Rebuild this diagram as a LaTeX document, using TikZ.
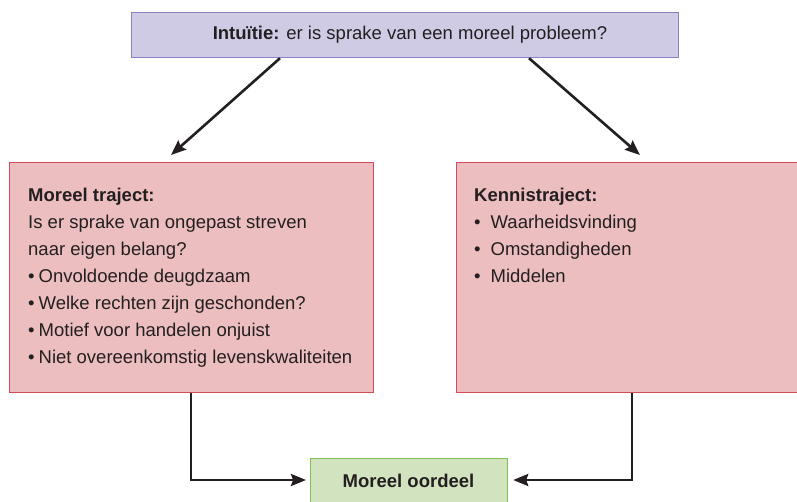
\documentclass[tikz,border=0pt]{standalone}
\usepackage{fontspec}
\setmainfont{Liberation Sans}
\usetikzlibrary{arrows.meta,calc}
\definecolor{txt}{HTML}{231F20}
\definecolor{lavfill}{HTML}{CFCBE5}
\definecolor{lavline}{HTML}{8A80C2}
\definecolor{pinkfill}{HTML}{ECBEBF}
\definecolor{pinkline}{HTML}{D04A5C}
\definecolor{greenfill}{HTML}{D1E4BF}
\definecolor{greenline}{HTML}{7DC24F}
\tikzset{
  box/.style={anchor=north west, inner sep=0pt, line width=1.2pt},
  topbox/.style={box, fill=lavfill, draw=lavline},
  trajbox/.style={box, fill=pinkfill, draw=pinkline},
  resbox/.style={box, fill=greenfill, draw=greenline},
  conn/.style={draw=txt, line width=2.6pt, -{Stealth[length=15pt,width=12pt,inset=2pt]}},
  bodytext/.style={anchor=base west, inner sep=0pt, text=txt, font=\fontsize{18.5pt}{27pt}\selectfont},
}
\begin{document}
\begin{tikzpicture}[x=1pt,y=-1pt]
\useasboundingbox (0,0) rectangle (797,502);
% boxes
\node[topbox, minimum width=547pt, minimum height=45pt] (top) at (131,12) {};
\node[text=txt, font=\fontsize{18.5pt}{22pt}\selectfont, anchor=base, inner sep=0pt] (toptext) at (410,40)
  {\textbf{Intuïtie:} er is sprake van een moreel probleem?};
\node[trajbox, minimum width=364pt, minimum height=230pt] (moreel) at (9,162) {};
\node[trajbox, minimum width=360pt, minimum height=230pt] (kennis) at (456,162) {};
\node[resbox, minimum width=197pt, minimum height=60pt] (oordeel) at (310,458) {};
\node[text=txt, font=\fontsize{18.5pt}{22pt}\selectfont\bfseries, anchor=base, inner sep=0pt] (oordeeltext) at (408.5,487) {Moreel oordeel};
% texts
\node[bodytext] (moreeltext) at (28,202) {\parbox[t]{340pt}{\raggedright\fontsize{18.5pt}{27pt}\selectfont
  \textbf{Moreel traject:}\\
  Is er sprake van ongepast streven\\
  naar eigen belang?\\
  •\hspace{4pt}Onvoldoende deugdzaam\\
  •\hspace{4pt}Welke rechten zijn geschonden?\\
  •\hspace{4pt}Motief voor handelen onjuist\\
  •\hspace{4pt}Niet overeenkomstig levenskwaliteiten}};
\node[bodytext] (kennistext) at (474,202) {\parbox[t]{300pt}{\raggedright\fontsize{18.5pt}{27pt}\selectfont
  \textbf{Kennistraject:}\\
  •\hspace{10pt}Waarheidsvinding\\
  •\hspace{10pt}Omstandigheden\\
  •\hspace{10pt}Middelen}};
% connector end points
\coordinate (e1) at (171,155);
\coordinate (e2) at (640,155);
\coordinate (b1) at (191,480);
\coordinate (b2) at (632,480);
\draw[conn] (top.south -| 280,0) -- (e1);
\draw[conn] (top.south -| 529,0) -- (e2);
\draw[conn] (moreel.south -| b1) -- (b1) -- ($(oordeel.west |- b1)+(-4,0)$);
\draw[conn] (kennis.south -| b2) -- (b2) -- ($(oordeel.east |- b2)+(5,0)$);
\end{tikzpicture}
\end{document}
